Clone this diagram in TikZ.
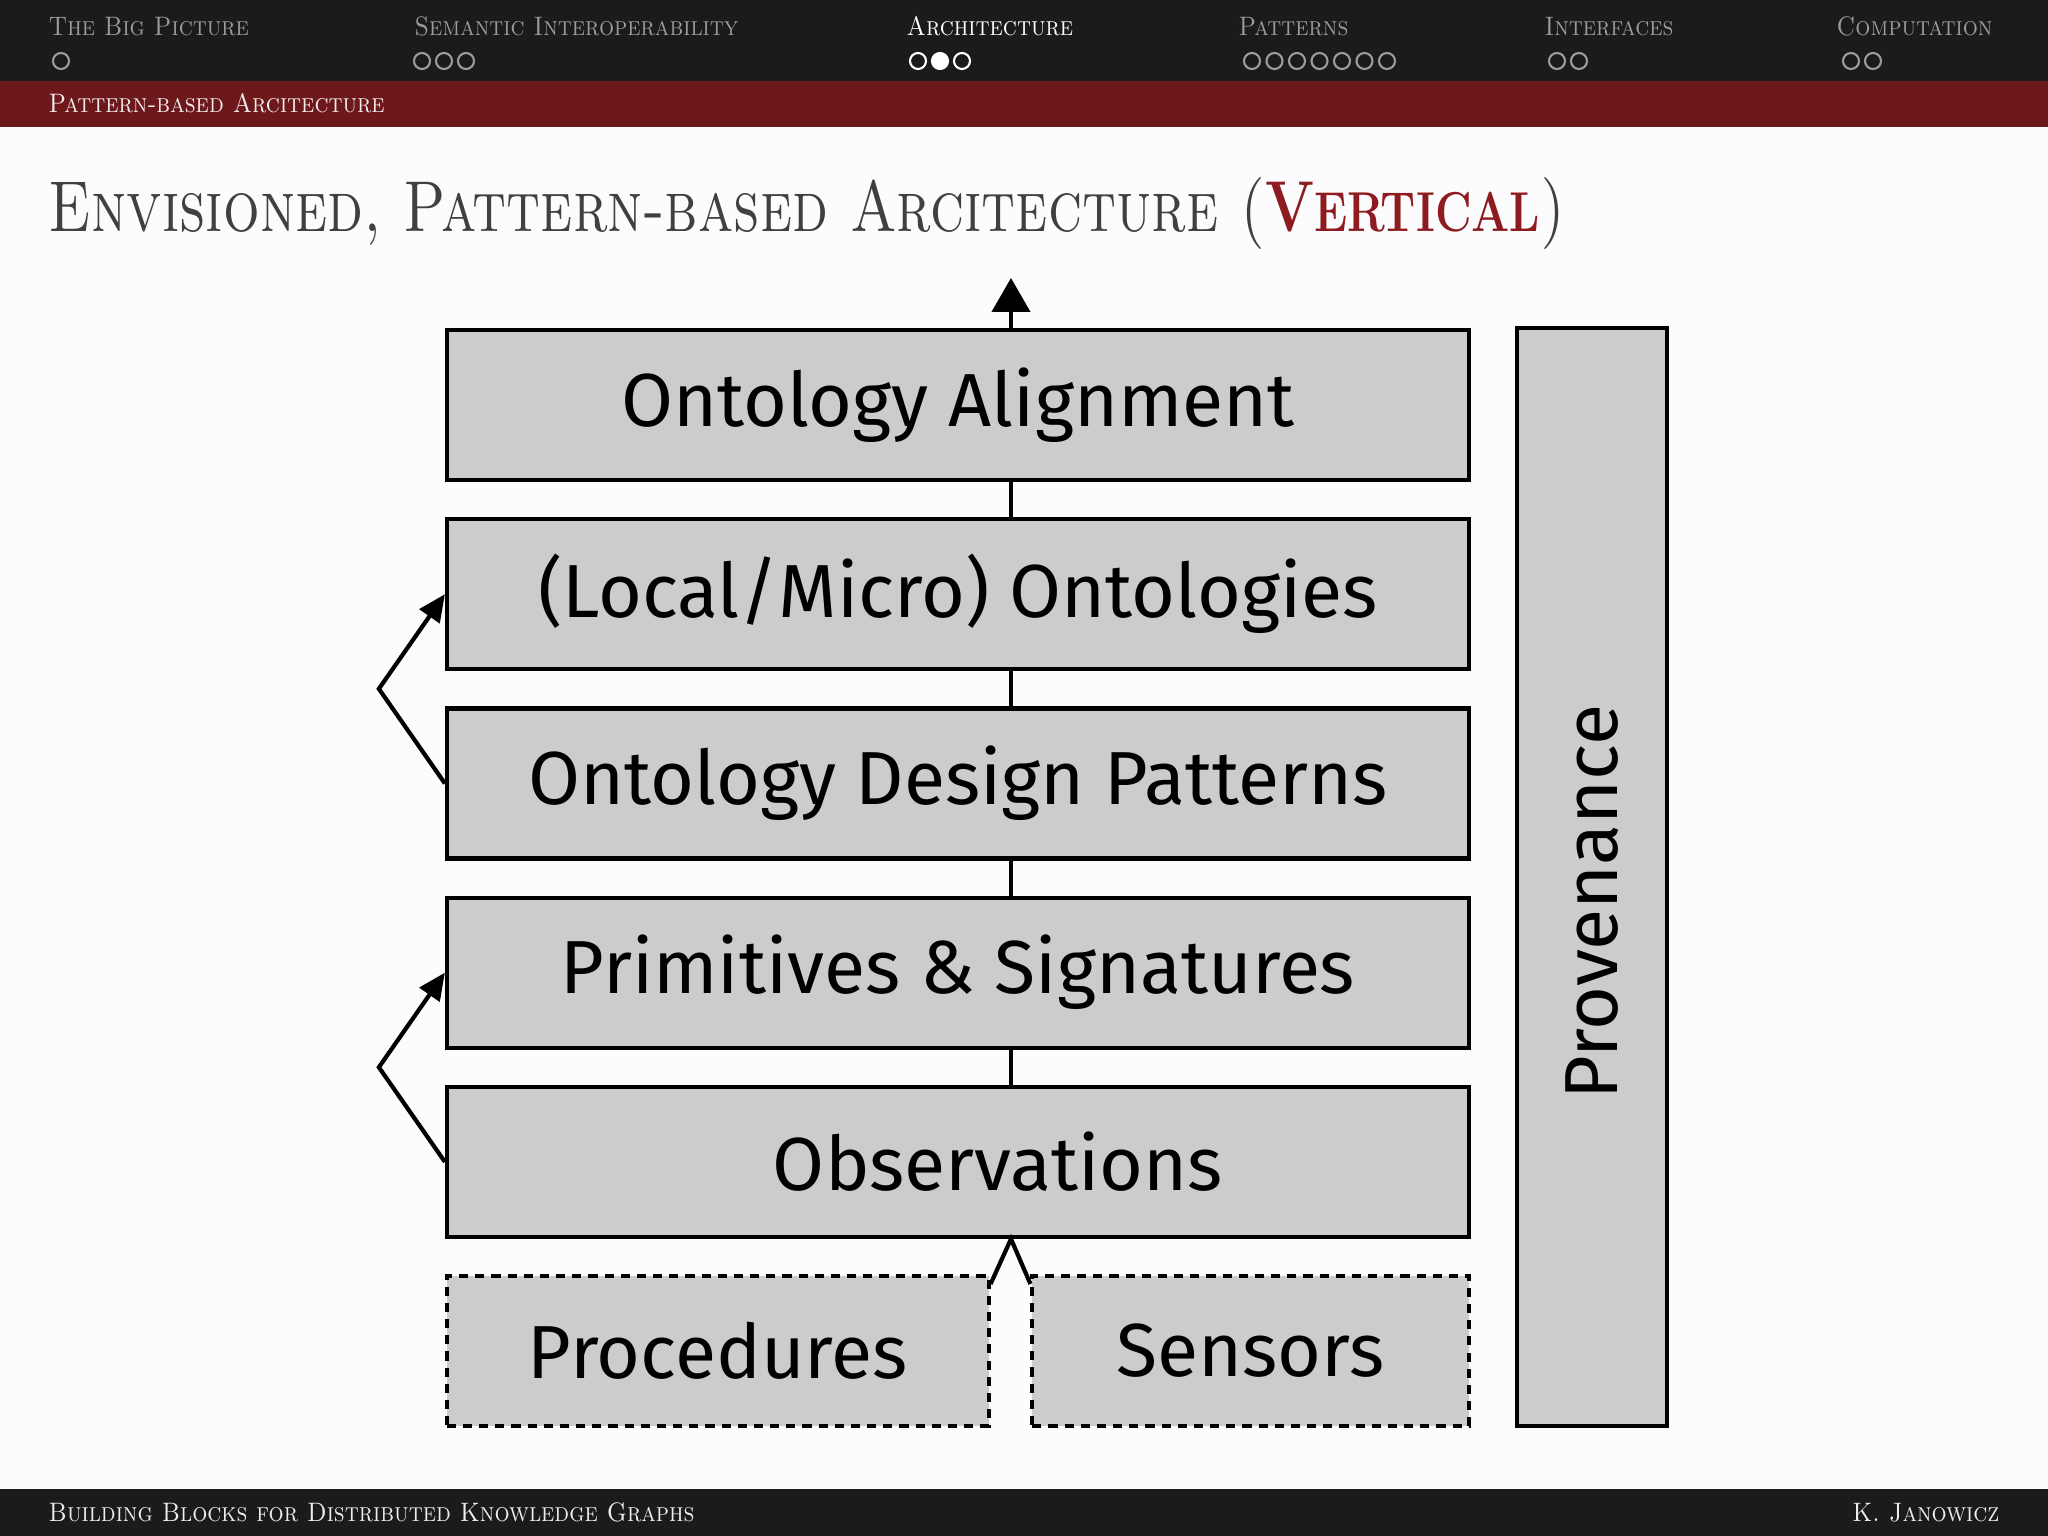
\documentclass[tikz,border=0pt]{standalone}
\usepackage{fontspec}
\newfontfamily\boxfont{Fira Sans}
\usepackage{tikz}
\usetikzlibrary{positioning, calc, arrows.meta}

\definecolor{barblack}{HTML}{1B1B1B}
\definecolor{barred}{HTML}{6D191C}
\definecolor{pagebg}{HTML}{FCFCFE}
\definecolor{boxgray}{HTML}{CCCBCE}
\definecolor{titlegray}{HTML}{404040}
\definecolor{vertred}{HTML}{8E1B1F}
\definecolor{headgray}{HTML}{9C9C9C}
\definecolor{headlight}{HTML}{F2ECEC}

% schmalere Kapitaelchen fuer Kopf- und Fusszeile
\newcommand{\hdr}[1]{\scalebox{0.89}[1]{#1}}

\tikzset{
  headtxt/.style={anchor=base west, inner sep=0pt, text=headgray, font=\fontsize{7.6}{9}\selectfont\scshape},
  mini/.style={draw=headgray, line width=0.6pt},
  layerbox/.style={draw, line width=1.2pt, fill=boxgray, minimum width=10.22cm, minimum height=1.50cm, inner sep=0pt, font=\boxfont\fontsize{21.4}{25}\selectfont},
  inputbox/.style={layerbox, line width=1.05pt, dash pattern=on 2.6pt off 2pt},
  link/.style={line width=1.2pt},
  uparrow/.style={line width=1.2pt, -{Triangle[width=3.8mm,length=3.4mm]}},
  sidearrow/.style={line width=1.2pt, -{Triangle[width=2.4mm,length=2.7mm]}}
}

\begin{document}
\begin{tikzpicture}
  \useasboundingbox (0,0) rectangle (20.48,-15.36);
  \fill[pagebg] (0,0) rectangle (20.48,-15.36);

  % Kopfzeile
  \fill[barblack] (0,0) rectangle (20.48,-0.81);
  \fill[barred] (0,-0.81) rectangle (20.48,-1.27);
  \node[headtxt] (bigpic) at (0.48,-0.36) {\hdr{The Big Picture}};
  \node[headtxt] (semint) at (4.14,-0.36) {\hdr{Semantic Interoperability}};
  \node[headtxt, text=white] (archi) at (9.06,-0.36) {\hdr{Architecture}};
  \node[headtxt] (patterns) at (12.38,-0.36) {\hdr{Patterns}};
  \node[headtxt] (interf) at (15.44,-0.36) {\hdr{Interfaces}};
  \node[headtxt] (comput) at (18.36,-0.36) {\hdr{Computation}};
  \node[headtxt, text=headlight] (frametitle) at (0.48,-1.13) {\hdr{Pattern-based Arcitecture}};

  % Folien-Kreise
  \draw[mini] (0.61,-0.61) circle (0.08);
  \draw[mini] (4.22,-0.61) circle (0.08) (4.44,-0.61) circle (0.08) (4.66,-0.61) circle (0.08);
  \draw[mini, draw=white] (9.18,-0.61) circle (0.08) (9.62,-0.61) circle (0.08);
  \draw[mini, draw=white, fill=white] (9.40,-0.61) circle (0.08);
  \draw[mini] (12.52,-0.61) circle (0.08) (12.745,-0.61) circle (0.08) (12.97,-0.61) circle (0.08)
              (13.195,-0.61) circle (0.08) (13.42,-0.61) circle (0.08) (13.645,-0.61) circle (0.08)
              (13.87,-0.61) circle (0.08);
  \draw[mini] (15.57,-0.61) circle (0.08) (15.79,-0.61) circle (0.08);
  \draw[mini] (18.51,-0.61) circle (0.08) (18.73,-0.61) circle (0.08);

  % Titel
  \node[anchor=base west, inner sep=0pt, text=titlegray, font=\fontsize{20.5}{24}\selectfont\scshape] (title) at (0.48,-2.32)
    {\scalebox{0.8}[1]{Envisioned, Pattern-based Arcitecture (\textcolor{vertred}{\bfseries V{\fontsize{16}{20}\selectfont ERTICAL}})}};

  % Schichten
  \coordinate (spine) at (10.11,0);
  \node[layerbox] (align) at (9.58,-4.05) {Ontology Alignment};
  \node[layerbox, below=0.35cm of align] (local) {(Local/Micro) Ontologies};
  \node[layerbox, below=0.35cm of local] (odp) {Ontology Design Patterns};
  \node[layerbox, below=0.35cm of odp] (prim) {Primitives \& Signatures};
  \node[layerbox, below=0.35cm of prim] (obs) {\hspace*{0.8cm}Observations};
  \node[inputbox, minimum width=5.42cm, below=0.35cm of obs.south west, anchor=north west] (proc) {Procedures};
  \node[inputbox, minimum width=4.37cm, below=0.35cm of obs.south east, anchor=north east] (sens) {Sensors};
  \node[layerbox, rotate=90, minimum width=10.98cm, minimum height=1.50cm] (prov) at (15.92,-8.77) {Provenance\hspace*{0.5cm}};

  % Verbindungen
  \coordinate (out) at (10.11,-2.78);
  \draw[uparrow] (align.north -| spine) -- (out);
  \draw[link] (align.south -| spine) -- (local.north -| spine);
  \draw[link] (local.south -| spine) -- (odp.north -| spine);
  \draw[link] (odp.south -| spine) -- (prim.north -| spine);
  \draw[link] (prim.south -| spine) -- (obs.north -| spine);
  \draw[link] ([yshift=-0.1cm]proc.north east) -- (obs.south -| spine) -- ([yshift=-0.1cm]sens.north west);

  % Seitenpfeile
  \draw[sidearrow] (odp.west) -- ([xshift=-0.66cm]$(odp.west)!0.5!(local.west)$) -- (local.west);
  \draw[sidearrow] (obs.west) -- ([xshift=-0.66cm]$(obs.west)!0.5!(prim.west)$) -- (prim.west);

  % Fusszeile
  \fill[barblack] (0,-14.89) rectangle (20.48,-15.36);
  \node[headtxt, text=headlight] (footleft) at (0.48,-15.21) {\hdr{Building Blocks for Distributed Knowledge Graphs}};
  \node[headtxt, text=headlight, anchor=base east] (footright) at (20.00,-15.21) {\hdr{K. Janowicz}};
\end{tikzpicture}
\end{document}
